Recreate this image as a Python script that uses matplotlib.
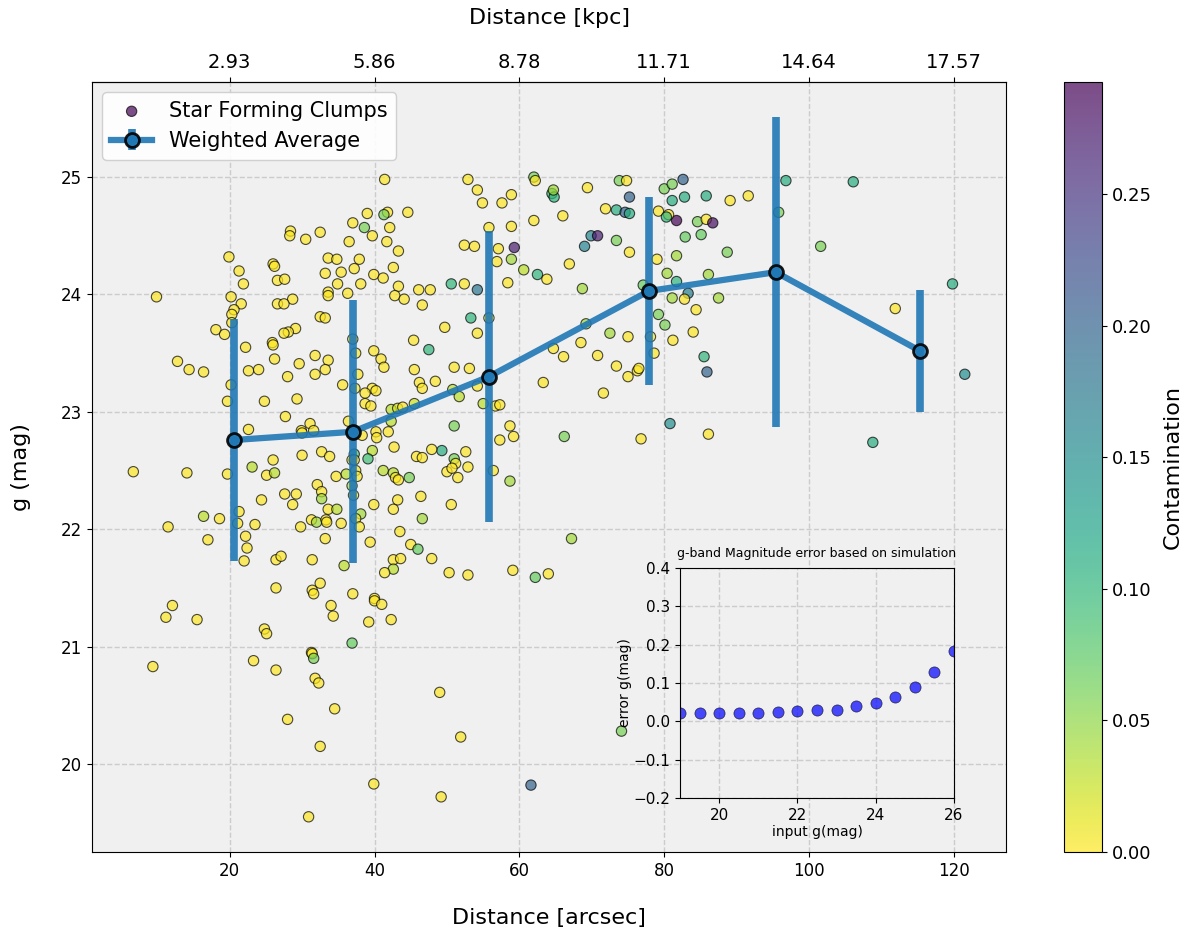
import matplotlib.pyplot as plt

# clump catalogue: projected distance (arcsec), g magnitude, contamination fraction
dist_arcsec = [
    81.7, 41.4, 41.8, 41.3, 39.0, 37.0, 38.6, 42.1, 39.7, 41.7,
    36.5, 43.3, 28.4, 28.3, 30.5, 32.5, 19.9, 33.6, 34.8, 37.9,
    37.2, 26.0, 26.2, 21.3, 33.2, 35.4, 39.9, 41.2, 42.6, 21.9,
    26.6, 27.6, 34.9, 38.1, 43.3, 9.9, 20.2, 21.6, 33.6, 33.6,
    36.3, 42.8, 28.7, 26.6, 27.5, 20.6, 20.3, 32.5, 33.2, 18.1,
    19.3, 20.3, 29.1, 28.1, 27.5, 25.9, 37.0, 52.9, 54.2, 54.9,
    57.6, 58.9, 44.6, 62.0, 62.2, 64.5, 64.8, 64.7, 69.4, 73.8,
    74.8, 75.2, 71.9, 73.4, 74.6, 75.2, 62.0, 66.0, 55.8, 58.9,
    59.3, 52.4, 53.8, 57.1, 56.9, 58.9, 69.9, 70.8, 69.0, 73.4,
    75.2, 66.9, 60.6, 62.5, 63.8, 50.6, 52.4, 54.2, 58.4, 46.1,
    47.7, 44.1, 46.6, 68.7, 53.3, 55.8, 49.7, 54.2, 45.4, 69.2,
    72.5, 75.0, 68.5, 79.2, 80.6, 80.3, 80.0, 81.1, 82.6, 81.1,
    82.8, 85.8, 84.6, 85.8, 82.9, 85.1, 79.0, 81.7, 80.4, 81.7,
    86.1, 77.1, 83.3, 81.1, 82.8, 84.4, 79.2, 80.1, 84.0, 78.1,
    81.2, 96.8, 106.1, 89.1, 91.6, 86.7, 95.8, 88.7, 101.6, 87.5,
    111.9, 119.8, 22.2, 26.0, 26.2, 12.8, 14.4, 16.4, 22.6, 24.0,
    20.2, 19.7, 24.8, 28.0, 29.6, 31.8, 33.6, 31.8, 33.2, 29.3,
    35.6, 37.4, 37.7, 37.3, 39.9, 40.9, 41.3, 39.7, 40.2, 38.7,
    38.7, 39.5, 27.7, 22.6, 31.1, 29.9, 30.0, 31.6, 36.4, 38.3,
    40.2, 40.3, 41.9, 42.3, 43.2, 42.3, 42.7, 39.7, 39.1, 37.2,
    36.9, 37.2, 30.0, 32.7, 33.8, 26.0, 23.1, 6.7, 14.1, 19.7,
    25.1, 26.2, 34.7, 36.1, 37.4, 37.6, 41.2, 42.6, 42.9, 43.3,
    32.1, 32.7, 32.7, 36.9, 37.1, 27.6, 29.2, 28.7, 24.4, 33.6,
    34.8, 39.9, 43.2, 42.6, 38.1, 37.4, 37.9, 21.3, 21.1, 16.4,
    18.6, 11.5, 23.5, 22.2, 22.4, 17.0, 29.8, 31.3, 32.0, 33.3,
    33.4, 35.4, 33.2, 39.4, 43.5, 22.0, 26.4, 27.1, 31.4, 35.8,
    42.6, 42.6, 41.4, 43.6, 26.4, 32.5, 31.4, 31.6, 37.0, 40.0,
    12.1, 11.2, 15.5, 9.4, 34.0, 34.3, 40.0, 41.0, 42.3, 39.2,
    24.8, 25.1, 36.9, 31.3, 31.4, 31.6, 23.3, 26.4, 31.8, 32.3,
    34.5, 28.0, 32.5, 39.9, 30.9, 47.5, 45.5, 51.0, 53.1, 46.2,
    46.6, 48.4, 50.8, 51.7, 54.2, 55.0, 56.7, 57.3, 45.5, 43.9,
    51.0, 58.7, 59.2, 57.3, 49.3, 47.9, 45.8, 46.6, 52.6, 51.0,
    51.2, 50.0, 50.7, 52.9, 51.5, 56.4, 58.7, 44.8, 46.4, 50.6,
    46.6, 45.0, 46.0, 47.9, 50.3, 52.9, 59.1, 62.2, 64.0, 67.2,
    66.2, 76.8, 80.8, 63.3, 64.7, 66.1, 70.8, 73.4, 75.0, 76.3,
    76.5, 71.6, 78.6, 85.5, 85.9, 86.1, 108.8, 121.5, 49.0, 51.9,
    49.2, 61.6, 74.1,
]
g_mag = [
    24.63, 24.98, 24.70, 24.68, 24.69, 24.61, 24.57, 24.57, 24.50, 24.45,
    24.45, 24.37, 24.54, 24.50, 24.47, 24.53, 24.32, 24.31, 24.30, 24.30,
    24.22, 24.26, 24.24, 24.20, 24.18, 24.19, 24.17, 24.14, 24.23, 24.09,
    24.12, 24.13, 24.09, 24.09, 24.07, 23.98, 23.98, 23.92, 24.02, 23.99,
    24.01, 23.99, 23.96, 23.92, 23.92, 23.87, 23.83, 23.81, 23.80, 23.70,
    23.66, 23.76, 23.71, 23.68, 23.67, 23.59, 23.62, 24.98, 24.89, 24.78,
    24.78, 24.85, 24.70, 25.00, 24.97, 24.86, 24.83, 24.89, 24.91, 24.97,
    24.97, 24.83, 24.73, 24.72, 24.70, 24.69, 24.63, 24.67, 24.57, 24.58,
    24.40, 24.42, 24.41, 24.39, 24.28, 24.30, 24.50, 24.50, 24.41, 24.46,
    24.36, 24.26, 24.21, 24.17, 24.13, 24.09, 24.09, 24.04, 24.10, 24.04,
    24.04, 23.96, 23.91, 24.05, 23.80, 23.80, 23.72, 23.67, 23.61, 23.75,
    23.67, 23.64, 23.59, 24.71, 24.68, 24.66, 24.90, 24.94, 24.98, 24.80,
    24.83, 24.84, 24.62, 24.64, 24.49, 24.51, 24.30, 24.33, 24.18, 24.11,
    24.17, 24.08, 24.01, 23.97, 23.96, 23.87, 23.83, 23.74, 23.68, 23.64,
    23.61, 24.97, 24.96, 24.80, 24.84, 24.61, 24.70, 24.36, 24.41, 23.97,
    23.88, 24.09, 23.55, 23.57, 23.45, 23.43, 23.36, 23.34, 23.35, 23.36,
    23.23, 23.09, 23.09, 23.30, 23.41, 23.48, 23.44, 23.32, 23.36, 23.11,
    23.23, 23.50, 23.32, 23.20, 23.52, 23.45, 23.38, 23.20, 23.18, 23.16,
    23.07, 23.05, 22.96, 22.85, 22.90, 22.84, 22.82, 22.84, 22.92, 22.80,
    22.83, 22.78, 22.83, 23.02, 23.03, 22.92, 22.70, 22.67, 22.60, 22.64,
    22.59, 22.59, 22.63, 22.66, 22.62, 22.59, 22.53, 22.49, 22.48, 22.47,
    22.46, 22.48, 22.45, 22.47, 22.50, 22.45, 22.50, 22.48, 22.44, 22.42,
    22.38, 22.32, 22.26, 22.37, 22.29, 22.30, 22.30, 22.21, 22.25, 22.17,
    22.17, 22.21, 22.25, 22.17, 22.13, 22.09, 22.02, 22.15, 22.05, 22.11,
    22.09, 22.02, 22.04, 21.94, 21.84, 21.91, 22.02, 22.08, 22.06, 22.08,
    22.06, 22.05, 21.92, 21.89, 21.98, 21.73, 21.74, 21.77, 21.74, 21.69,
    21.74, 21.66, 21.63, 21.75, 21.50, 21.54, 21.48, 21.45, 21.45, 21.41,
    21.35, 21.25, 21.23, 20.83, 21.35, 21.26, 21.39, 21.36, 21.23, 21.21,
    21.15, 21.11, 21.03, 20.95, 20.94, 20.90, 20.88, 20.80, 20.73, 20.69,
    20.47, 20.38, 20.15, 19.83, 19.55, 23.53, 23.36, 23.38, 23.37, 23.25,
    23.20, 23.26, 23.19, 23.13, 23.22, 23.07, 23.05, 23.06, 23.07, 23.04,
    22.88, 22.88, 22.79, 22.76, 22.67, 22.68, 22.62, 22.61, 22.66, 22.60,
    22.56, 22.49, 22.52, 22.53, 22.44, 22.50, 22.41, 22.44, 22.28, 22.21,
    22.09, 21.87, 21.83, 21.75, 21.63, 21.61, 21.65, 21.59, 21.62, 21.92,
    22.79, 22.77, 22.90, 23.25, 23.54, 23.47, 23.48, 23.39, 23.30, 23.35,
    23.37, 23.16, 23.50, 23.47, 23.34, 22.81, 22.74, 23.32, 20.61, 20.23,
    19.72, 19.82, 20.28,
]
contamination = [
    0.29, 0, 0, 0.06, 0, 0, 0.06, 0, 0, 0,
    0, 0, 0, 0, 0, 0, 0, 0, 0, 0,
    0, 0, 0, 0, 0, 0, 0, 0, 0, 0,
    0, 0, 0, 0, 0, 0, 0, 0, 0, 0,
    0, 0, 0, 0, 0, 0, 0, 0, 0, 0,
    0, 0, 0, 0, 0, 0, 0, 0, 0, 0,
    0, 0, 0, 0.06, 0, 0.10, 0.10, 0.04, 0, 0.06,
    0, 0.20, 0, 0.11, 0.20, 0.11, 0, 0, 0, 0,
    0.27, 0, 0, 0, 0, 0.04, 0.16, 0.27, 0.16, 0.06,
    0, 0, 0.03, 0.10, 0, 0.10, 0, 0.18, 0, 0,
    0, 0, 0, 0.04, 0.10, 0, 0, 0, 0, 0.04,
    0.04, 0, 0, 0, 0, 0.10, 0.06, 0.06, 0.20, 0.11,
    0.11, 0.11, 0.06, 0, 0.07, 0.07, 0, 0.04, 0.04, 0.10,
    0.04, 0.07, 0.17, 0.04, 0, 0, 0.06, 0.06, 0, 0,
    0, 0.11, 0.11, 0, 0, 0.28, 0.06, 0.06, 0.06, 0.04,
    0, 0.11, 0, 0, 0, 0, 0, 0, 0, 0,
    0, 0, 0, 0, 0, 0, 0, 0, 0, 0,
    0, 0, 0, 0, 0, 0, 0, 0, 0, 0,
    0, 0, 0, 0, 0, 0, 0, 0, 0, 0,
    0, 0, 0, 0.03, 0.02, 0.03, 0, 0.03, 0.09, 0.08,
    0, 0, 0, 0, 0, 0, 0.03, 0, 0, 0,
    0, 0.03, 0, 0.03, 0, 0, 0.03, 0.03, 0, 0,
    0, 0, 0.04, 0.03, 0, 0, 0, 0, 0, 0,
    0.03, 0, 0, 0, 0.04, 0, 0, 0, 0, 0.03,
    0, 0, 0, 0, 0, 0, 0, 0, 0.04, 0,
    0, 0, 0, 0, 0, 0, 0, 0, 0, 0.03,
    0, 0.03, 0, 0, 0, 0, 0, 0, 0, 0,
    0, 0, 0, 0, 0, 0, 0, 0, 0, 0,
    0, 0, 0.07, 0, 0, 0.06, 0, 0, 0, 0,
    0, 0, 0, 0, 0, 0.10, 0, 0, 0, 0,
    0, 0, 0.03, 0.03, 0, 0.03, 0, 0, 0.02, 0,
    0.06, 0, 0, 0, 0.11, 0, 0, 0, 0, 0.06,
    0, 0, 0, 0, 0, 0, 0.04, 0.06, 0, 0,
    0.04, 0, 0.07, 0, 0, 0, 0, 0.07, 0, 0.04,
    0.06, 0, 0.15, 0, 0, 0, 0, 0, 0, 0,
    0, 0, 0, 0.10, 0.20, 0, 0.11, 0.15, 0, 0,
    0, 0.20, 0.06,
]

# weighted average in distance bins
avg_dist = [20.6, 37.0, 55.8, 77.9, 95.4, 115.3]
avg_g = [22.76, 22.83, 23.30, 24.03, 24.19, 23.52]
avg_err = [1.03, 1.12, 1.24, 0.80, 1.32, 0.52]

# simulated photometric error vs input magnitude
sim_g = [19.0, 19.5, 20.0, 20.5, 21.0, 21.5, 22.0, 22.5, 23.0, 23.5, 24.0, 24.5, 25.0, 25.5, 26.0]
sim_err = [0.022, 0.023, 0.021, 0.023, 0.023, 0.024, 0.026, 0.029, 0.030, 0.039, 0.049, 0.063, 0.090, 0.128, 0.183]

kpc_per_arcsec = 0.1464
dist_ticks = [20, 40, 60, 80, 100, 120]

fig = plt.figure(figsize=(11.86, 9.33), dpi=100)
ax = fig.add_axes([0.0776, 0.0868, 0.7707, 0.8253])
cax = fig.add_axes([0.8971, 0.0868, 0.0320, 0.8253])

ax.set_facecolor('#f0f0f0')
ax.grid(True, linestyle='--', color='#cccccc', linewidth=1.0)
ax.set_axisbelow(True)

sc = ax.scatter(dist_arcsec, g_mag, c=contamination, cmap='viridis_r', vmin=0, vmax=0.2925,
                s=55, alpha=0.7, edgecolors='k', linewidths=0.8,
                label='Star Forming Clumps', zorder=2)
ax.errorbar(avg_dist, avg_g, yerr=avg_err, fmt='o-', color='tab:blue', lw=4.5,
            elinewidth=5.5, ms=10, mec='k', mew=2, alpha=0.9,
            label='Weighted Average', zorder=3)

ax.set_xlim(1.0, 127.2)
ax.set_ylim(19.25, 25.81)
ax.set_xticks(dist_ticks)
ax.tick_params(labelsize=12)
ax.set_xlabel('Distance [arcsec]', fontsize=16, labelpad=20)
ax.set_ylabel('g (mag)', fontsize=16, labelpad=22)

top = ax.secondary_xaxis('top')
top.set_xticks(dist_ticks)
top.set_xticklabels([f'{d * kpc_per_arcsec:.2f}' for d in dist_ticks])
top.tick_params(labelsize=14)
top.set_xlabel('Distance [kpc]', fontsize=16, labelpad=21)

ax.legend(loc='upper left', fontsize=15, framealpha=0.9)

cb = fig.colorbar(sc, cax=cax)
cb.ax.tick_params(labelsize=13)
cb.set_label('Contamination', fontsize=16, labelpad=8)

# inset: simulated magnitude error
ins = fig.add_axes([0.5734, 0.1447, 0.2310, 0.2465])
ins.set_facecolor('#f0f0f0')
ins.grid(True, linestyle='--', color='#cccccc', linewidth=1.0)
ins.set_axisbelow(True)
ins.scatter(sim_g, sim_err, color='blue', alpha=0.7, s=65, edgecolors='k', linewidths=0.5, zorder=2)
ins.set_xlim(19, 26)
ins.set_ylim(-0.2, 0.4)
ins.set_xticks([20, 22, 24, 26])
ins.tick_params(labelsize=11)
ins.set_xlabel('input g(mag)', fontsize=10, labelpad=2)
ins.set_ylabel('error g(mag)', fontsize=10, labelpad=1)
ins.set_title('g-band Magnitude error based on simulation', fontsize=9, pad=8)

fig.savefig('out.png', dpi=100)
